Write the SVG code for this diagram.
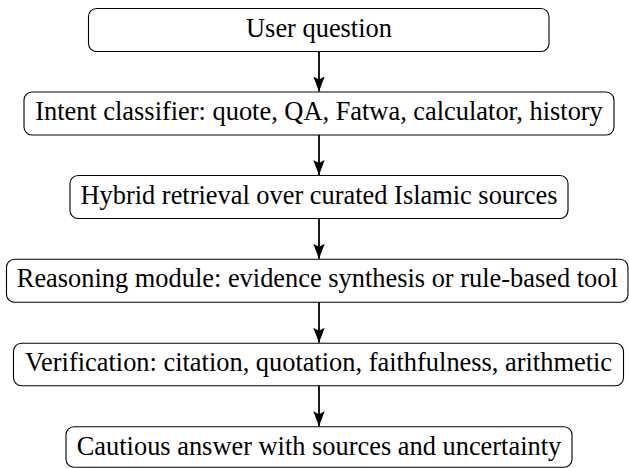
<svg xmlns="http://www.w3.org/2000/svg" width="629" height="468" viewBox="0 0 629 468">
<style>
.box{fill:#fff;stroke:#000;stroke-width:1.1}
text{font-family:'Liberation Serif','Times New Roman',serif;font-size:26.4px;fill:#000;text-anchor:middle}
.edge{stroke:#000;stroke-width:1.8;fill:none}
</style>
<defs>
<marker id="arr" markerUnits="userSpaceOnUse" markerWidth="16" markerHeight="12" refX="15" refY="6" orient="auto" viewBox="0 0 16 12">
<path d="M0,0.3 L15,6 L0,11.7 L3,6 Z" fill="#000"/>
</marker>
</defs>
<rect width="629" height="468" fill="#fff"/>
<g id="n1"><rect class="box" x="88.5" y="8.5" width="460.5" height="43" rx="8"/><text font-family="Liberation Serif, serif" x="319" y="36.5">User question</text></g>
<g id="n2"><rect class="box" x="24" y="92" width="590" height="43" rx="8"/><text font-family="Liberation Serif, serif" x="319" y="120">Intent classifier: quote, QA, Fatwa, calculator, history</text></g>
<g id="n3"><rect class="box" x="70" y="175.5" width="498" height="43" rx="8"/><text font-family="Liberation Serif, serif" x="319" y="203.5">Hybrid retrieval over curated Islamic sources</text></g>
<g id="n4"><rect class="box" x="6.5" y="259.3" width="621.5" height="43" rx="8"/><text font-family="Liberation Serif, serif" x="317.3" y="287.3">Reasoning module: evidence synthesis or rule-based tool</text></g>
<g id="n5"><rect class="box" x="13.5" y="343.3" width="610" height="42.5" rx="8"/><text font-family="Liberation Serif, serif" x="318.5" y="371.3">Verification: citation, quotation, faithfulness, arithmetic</text></g>
<g id="n6"><rect class="box" x="66" y="426.7" width="506" height="40.5" rx="8"/><text font-family="Liberation Serif, serif" x="319" y="454.7">Cautious answer with sources and uncertainty</text></g>
<g id="edges">
<line class="edge" x1="319" y1="51.5" x2="319" y2="91.5" marker-end="url(#arr)"/>
<line class="edge" x1="319" y1="135" x2="319" y2="175" marker-end="url(#arr)"/>
<line class="edge" x1="319" y1="218.5" x2="319" y2="258.8" marker-end="url(#arr)"/>
<line class="edge" x1="319" y1="302.3" x2="319" y2="342.8" marker-end="url(#arr)"/>
<line class="edge" x1="319" y1="385.8" x2="319" y2="426.2" marker-end="url(#arr)"/>
</g>
</svg>
